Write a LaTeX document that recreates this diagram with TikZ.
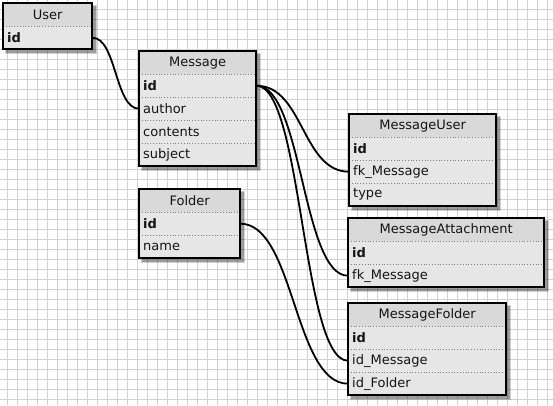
\documentclass[tikz,border=0pt]{standalone}
\usepackage{fontspec}
\setmainfont{DejaVu Sans}
\definecolor{gridc}{HTML}{D2D2D2}
\definecolor{hdrc}{HTML}{D9D9D9}
\definecolor{rowc}{HTML}{E6E6E6}
\definecolor{sepc}{HTML}{808080}
\definecolor{txtc}{HTML}{141414}
\tikzset{
  hdr/.style={anchor=north west, fill=hdrc, minimum height=23pt, inner xsep=4pt, inner ysep=0pt, align=center, text=txtc, font=\fontsize{13}{15}\selectfont},
  rowbox/.style={anchor=north west, fill=rowc, minimum height=23pt, inner xsep=4pt, inner ysep=0pt, align=left, text=txtc, font=\fontsize{13}{15}\selectfont},
  sep/.style={sepc, dotted, line width=0.8pt},
  border/.style={black, line width=1.3pt},
  conn/.style={black, line width=1.8pt, line cap=round},
}
\newcommand\dbtab[7]{%
  \pgfmathsetmacro\tabh{23*(#5+1)}%
  \pgfmathsetmacro\tw{#4-8}%
  \fill[black, opacity=0.18] (#2+2,#3+2) rectangle ++(#4+3,\tabh+3);
  \fill[black, opacity=0.25] (#2+3,#3+3) rectangle ++(#4+1,\tabh+1);
  \node[hdr, text width=\tw pt] (#1) at (#2,#3) {#6};
  \foreach \k/\t [count=\i] in {#7} {
    \node[rowbox, text width=\tw pt] (#1-\k) at (#2,#3+23*\i) {\t};
    \draw[sep] (#2,#3+23*\i) -- ++(#4,0);
  }
  \draw[border] (#2,#3) rectangle ++(#4,\tabh);
}
\begin{document}
\begin{tikzpicture}[x=1pt,y=-1pt]
\useasboundingbox (0,0) rectangle (553,405);
\fill[white] (0,0) rectangle (553,405);
\foreach \x in {7,17,...,547} \draw[gridc, line width=0.8pt] (\x,0) -- (\x,405);
\foreach \y in {9,19,...,399} \draw[gridc, line width=0.8pt] (0,\y) -- (553,\y);

\dbtab{user}{3}{3}{89}{1}{User}{id/\textbf{id}}
\dbtab{msg}{139}{51}{117}{4}{Message}{id/\textbf{id},author/author,contents/contents,subject/subject}
\dbtab{folder}{139}{189}{101}{2}{Folder}{id/\textbf{id},name/name}
\dbtab{mu}{349}{114}{147}{3}{MessageUser}{id/\textbf{id},fk/fk\_Message,type/type}
\dbtab{ma}{348}{218}{196}{2}{MessageAttachment}{id/\textbf{id},fk/fk\_Message}
\dbtab{mf}{348}{303}{158}{3}{MessageFolder}{id/\textbf{id},idm/id\_Message,idf/id\_Folder}

\draw[conn] (user-id.east) to[out=0,in=180,distance=24pt] (msg-author.west);
\draw[conn] (msg-id.east) to[out=0,in=180,distance=47pt] (mu-fk.west);
\draw[conn] (msg-id.east) to[out=0,in=180,distance=46pt] (ma-fk.west);
\draw[conn] (msg-id.east) to[out=0,in=180,distance=46pt] (mf-idm.west);
\draw[conn] (folder-id.east) to[out=0,in=180,distance=54pt] (mf-idf.west);
\end{tikzpicture}
\end{document}
